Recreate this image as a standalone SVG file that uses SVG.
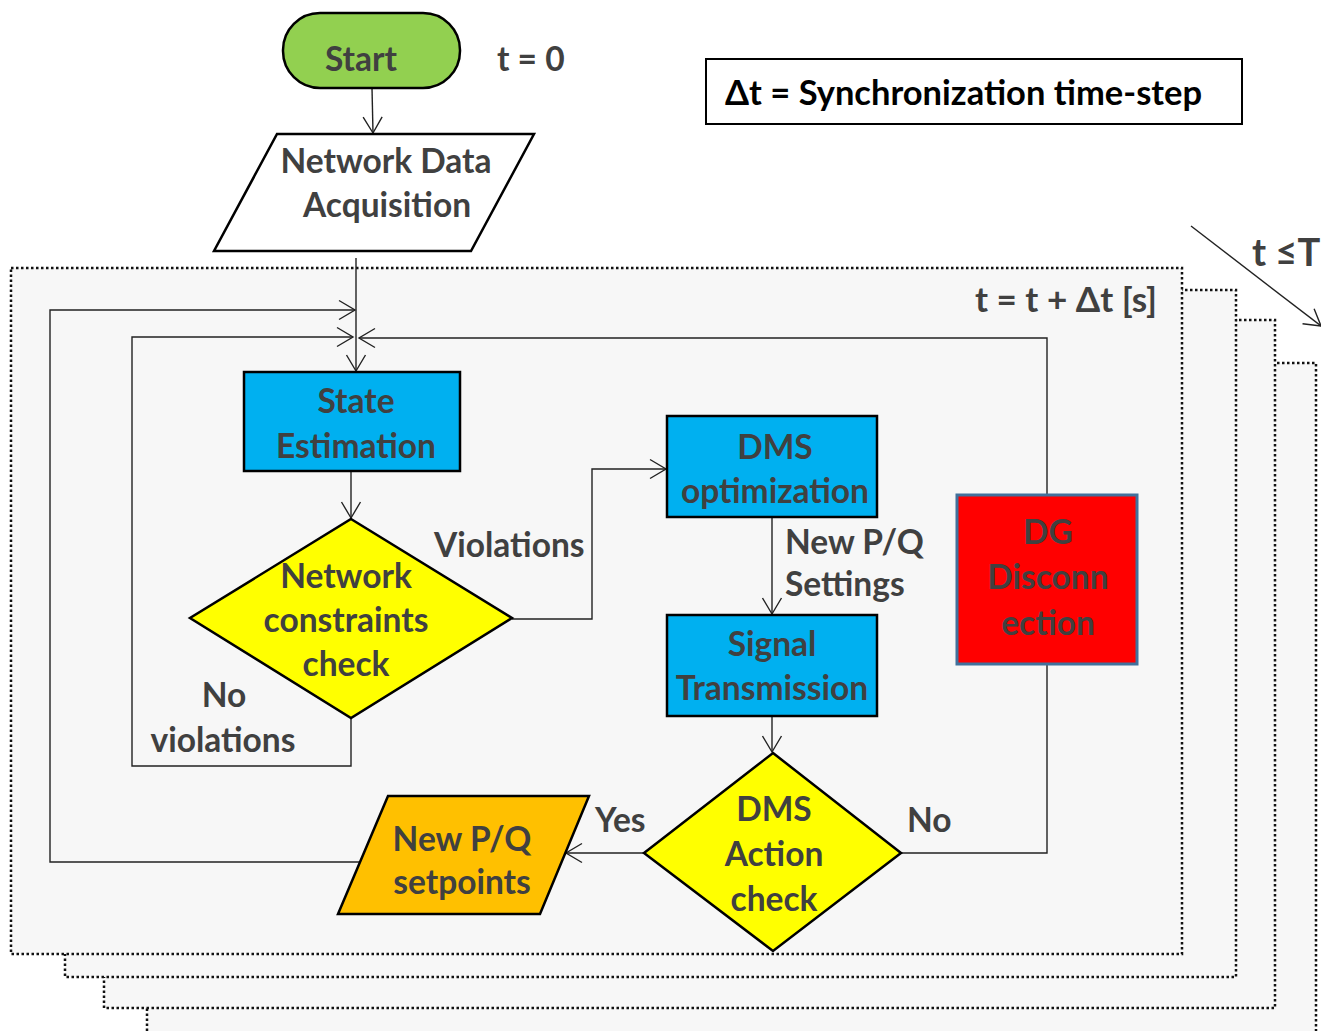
<svg xmlns="http://www.w3.org/2000/svg" width="1321" height="1031" viewBox="0 0 1321 1031">
<defs>
<marker id="arr" markerUnits="userSpaceOnUse" markerWidth="20" markerHeight="22" viewBox="-17 -11 20 22" refX="0" refY="0" orient="auto">
<path d="M-16,-9.5 L0,0 L-16,9.5" fill="none" stroke="#222" stroke-width="1.4"/>
</marker>
<style>
.t{font-family:Lato,"Liberation Sans",sans-serif;font-weight:bold;fill:#404040;font-size:33.5px;}
.c{text-anchor:middle;}
.frame{fill:#f7f7f7;stroke:#111;stroke-width:2.5;stroke-dasharray:2.5 2.5;}
.shape{stroke:#000;stroke-width:2.5;}
.ln{fill:none;stroke:#222;stroke-width:1.4;}
</style>
</defs>
<rect width="1321" height="1031" fill="#fff"/>
<g id="frames">
<rect class="frame" x="147" y="363" width="1169" height="700"/>
<rect class="frame" x="104" y="320" width="1171" height="688"/>
<rect class="frame" x="65" y="290" width="1171" height="687"/>
<rect class="frame" x="11" y="268" width="1171" height="686"/>
</g>
<g id="labels">
<text class="t" x="497" y="71">t = 0</text>
<g id="legend">
<rect x="706" y="59" width="536" height="65" fill="#fff" stroke="#000" stroke-width="2"/>
<text class="t" x="725" y="105" style="fill:#000" textLength="477" lengthAdjust="spacingAndGlyphs">Δt = Synchronization time-step</text>
</g>
<text class="t" x="975" y="312" textLength="182" lengthAdjust="spacingAndGlyphs">t = t + Δt [s]</text>
<text class="t" x="1252" y="266" style="font-size:38px">t ≤T</text>
<text class="t" x="434" y="557">Violations</text>
<text class="t" x="785" y="554">New P/Q</text>
<text class="t" x="785" y="596">Settings</text>
<text class="t" x="595" y="832">Yes</text>
<text class="t" x="907" y="832">No</text>
<text class="t c" x="224" y="707">No</text>
<text class="t c" x="223" y="752">violations</text>
</g>
<g id="connectors">
<line class="ln" x1="372" y1="88" x2="373" y2="133" marker-end="url(#arr)"/>
<line class="ln" x1="356" y1="258" x2="356" y2="371" marker-end="url(#arr)"/>
<polyline class="ln" points="360,862 50,862 50,310 355,310" marker-end="url(#arr)"/>
<polyline class="ln" points="351,718 351,766 132,766 132,337 353,337" marker-end="url(#arr)"/>
<polyline class="ln" points="1047,495 1047,338 359,338" marker-end="url(#arr)"/>
<line class="ln" x1="351" y1="471" x2="351" y2="518" marker-end="url(#arr)"/>
<polyline class="ln" points="512,619 592,619 592,469 666,469" marker-end="url(#arr)"/>
<line class="ln" x1="772" y1="517" x2="772" y2="614" marker-end="url(#arr)"/>
<line class="ln" x1="772" y1="716" x2="772" y2="752" marker-end="url(#arr)"/>
<line class="ln" x1="644" y1="853" x2="566" y2="853" marker-end="url(#arr)"/>
<polyline class="ln" points="901,853 1047,853 1047,665"/>
<line class="ln" x1="1191" y1="226" x2="1321" y2="326" marker-end="url(#arr)"/>
</g>
<g id="start">
<rect class="shape" x="283" y="13" width="177" height="75" rx="37" fill="#92d050"/>
<text class="t c" x="361" y="71">Start</text>
</g>
<g id="nda">
<polygon class="shape" points="277,134 534,134 471,251 214,251" fill="#fff"/>
<text class="t c" x="386" y="173">Network Data</text>
<text class="t c" x="387" y="217">Acquisition</text>
</g>
<g id="se">
<rect class="shape" x="244" y="372" width="216" height="99" fill="#00b0f0"/>
<text class="t c" x="356" y="413">State</text>
<text class="t c" x="356" y="458">Estimation</text>
</g>
<g id="ncc">
<polygon class="shape" points="351,519 512,618 351,718 190,618" fill="#ffff00"/>
<text class="t c" x="346" y="588">Network</text>
<text class="t c" x="346" y="632">constraints</text>
<text class="t c" x="346" y="676">check</text>
</g>
<g id="dmsopt">
<rect class="shape" x="667" y="416" width="210" height="101" fill="#00b0f0"/>
<text class="t c" x="775" y="459">DMS</text>
<text class="t c" x="775" y="503">optimization</text>
</g>
<g id="sig">
<rect class="shape" x="667" y="615" width="210" height="101" fill="#00b0f0"/>
<text class="t c" x="772" y="656">Signal</text>
<text class="t c" x="772" y="700">Transmission</text>
</g>
<g id="dmsact">
<polygon class="shape" points="773,753 901,853 773,951 644,853" fill="#ffff00"/>
<text class="t c" x="774" y="821">DMS</text>
<text class="t c" x="774" y="866">Action</text>
<text class="t c" x="774" y="911">check</text>
</g>
<g id="dg">
<rect x="957" y="495" width="180" height="169" fill="#ff0000" stroke="#41719c" stroke-width="3"/>
<text class="t c" x="1048" y="544">DG</text>
<text class="t c" x="1048" y="589">Disconn</text>
<text class="t c" x="1048" y="635">ection</text>
</g>
<g id="npq">
<polygon class="shape" points="388,796 589,796 540,914 338,914" fill="#ffc000"/>
<text class="t c" x="462" y="851">New P/Q</text>
<text class="t c" x="462" y="894">setpoints</text>
</g>
</svg>
